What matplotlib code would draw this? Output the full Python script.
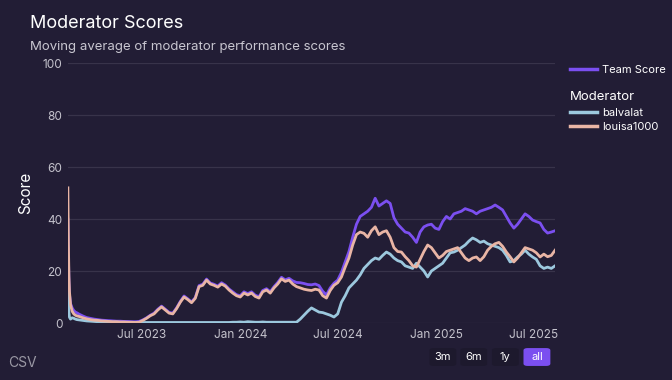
import numpy as np
import pandas as pd
import matplotlib
matplotlib.use("Agg")
import matplotlib.pyplot as plt
import matplotlib.dates as mdates
from matplotlib.lines import Line2D
from matplotlib.patches import FancyBboxPatch

plt.rcParams['font.family'] = ['Inter', 'DejaVu Sans']

# first days: the moving average is still settling
early_dates = ['2023-02-13', '2023-02-14', '2023-02-15', '2023-02-16', '2023-02-18',
               '2023-02-21', '2023-02-24', '2023-02-27', '2023-03-02']
early_team = [40, 26, 16, 11, 7.5, 5.8, 4.8, 4.2, 3.9]
early_balvalat = [14, 8, 4, 2.2, 1.5, 2.0, 1.8, 1.5, 1.3]
early_louisa = [52, 30, 18, 12, 7, 4.5, 3.5, 3.0, 2.7]

# weekly values from 2023-03-06 on
team_score = [
    3.4, 2.7, 2.1, 1.8, 1.5, 1.3, 1.1, 1.0, 0.9, 0.8, 0.7, 0.7, 0.6, 0.6, 0.5, 0.5,
    0.6, 1.2, 2.0, 3.0, 3.8, 5.3, 6.5, 5.3, 4.1, 3.8, 5.8, 8.3, 10.4, 9.3, 8.1, 9.8,
    14.4, 14.9, 16.9, 15.4, 14.9, 14.2, 15.5, 14.6, 13.1, 12.0, 10.9, 10.5, 12.0, 11.3,
    12.0, 10.7, 10.1, 12.5, 13.2, 12.0, 14.0, 15.6, 17.6, 16.6, 17.2, 16.2, 15.6, 15.5,
    15.2, 14.8, 14.7, 15.0, 14.4, 12.2, 10.8, 13.5, 15.3, 16.5, 19.5, 23.5, 27.5, 33.0,
    38.0, 41.0, 42.0, 43.0, 44.5, 48.0, 45.0, 46.0, 47.0, 46.0, 40.5, 38.0, 36.5, 35.0,
    34.6, 33.0, 31.0, 35.0, 37.0, 37.7, 38.0, 36.5, 36.0, 39.0, 41.0, 40.0, 42.0, 42.5,
    43.0, 44.0, 43.5, 43.0, 42.0, 43.0, 43.5, 44.0, 44.5, 45.4, 44.5, 43.5, 41.0, 38.5,
    36.5, 38.0, 40.0, 42.0, 41.0, 39.6, 39.0, 38.5, 36.0, 34.6, 35.0, 35.5]

balvalat = [
    1.2, 1.0, 0.8, 0.7, 0.6, 0.5, 0.4, 0.4, 0.3, 0.3, 0.3, 0.2, 0.2, 0.2, 0.2, 0.2,
    0.2, 0.2, 0.2, 0.2, 0.2, 0.2, 0.2, 0.2, 0.2, 0.2, 0.2, 0.2, 0.2, 0.2, 0.2, 0.2,
    0.2, 0.2, 0.2, 0.2, 0.2, 0.2, 0.2, 0.2, 0.2, 0.3, 0.3, 0.4, 0.3, 0.5, 0.4, 0.3,
    0.3, 0.4, 0.3, 0.3, 0.3, 0.3, 0.3, 0.3, 0.3, 0.3, 0.3, 1.5, 3.0, 4.5, 5.8, 5.0,
    4.2, 4.0, 3.5, 3.0, 2.3, 3.5, 8.0, 10.5, 13.5, 15.0, 16.5, 18.5, 21.0, 22.5, 24.0,
    25.0, 24.5, 26.0, 27.3, 26.5, 25.0, 24.0, 23.5, 22.0, 21.5, 21.0, 23.0, 21.5, 20.0,
    17.7, 20.0, 21.0, 22.0, 23.0, 25.0, 27.0, 27.3, 28.0, 29.0, 30.0, 31.5, 32.7, 32.0,
    31.0, 31.5, 30.5, 30.0, 29.5, 29.0, 28.0, 26.0, 23.5, 24.0, 25.4, 26.5, 28.0, 26.5,
    25.4, 24.5, 22.0, 21.0, 21.5, 21.0, 22.0]

louisa1000 = [
    2.5, 2.0, 1.6, 1.3, 1.1, 1.0, 0.8, 0.7, 0.6, 0.5, 0.5, 0.4, 0.4, 0.3, 0.3, 0.2,
    0.3, 1.0, 1.8, 2.8, 3.5, 5.0, 6.2, 5.0, 3.8, 3.5, 5.5, 8.0, 10.0, 9.0, 7.8, 9.5,
    14.0, 14.5, 16.5, 15.0, 14.5, 13.8, 15.0, 14.2, 12.7, 11.5, 10.5, 10.0, 11.5, 10.8,
    11.5, 10.2, 9.6, 12.0, 12.7, 11.5, 13.5, 15.0, 17.0, 16.0, 16.5, 15.0, 14.0, 13.5,
    13.0, 12.7, 12.5, 13.0, 12.7, 10.5, 9.6, 12.5, 14.5, 15.5, 17.7, 21.5, 25.0, 30.0,
    34.0, 35.0, 34.5, 33.0, 35.5, 37.0, 34.0, 35.0, 35.5, 33.0, 29.0, 27.5, 27.3, 25.5,
    24.0, 22.0, 21.5, 24.5, 27.5, 30.0, 29.0, 27.0, 25.0, 26.0, 27.5, 28.0, 28.5, 29.0,
    27.0, 25.0, 24.0, 25.0, 25.4, 24.0, 25.5, 28.0, 29.5, 30.5, 31.0, 29.5, 27.3, 25.5,
    23.5, 25.0, 27.0, 29.0, 28.5, 28.0, 27.0, 25.4, 26.5, 25.5, 26.0, 28.0]

tick_dates = ['2023-07-01', '2024-01-01', '2024-07-01', '2025-01-01', '2025-07-01']
range_buttons = ['3m', '6m', '1y', 'all']

bg = '#221d35'
c_team = '#7b4ff0'
c_balvalat = '#9cc8de'
c_louisa = '#e9b5a5'

dates = pd.to_datetime(early_dates).append(
    pd.date_range('2023-03-06', periods=len(team_score), freq='7D'))
team = early_team + team_score
bal = early_balvalat + balvalat
lou = early_louisa + louisa1000

fig = plt.figure(figsize=(6.72, 3.8), dpi=100, facecolor=bg)
ax = fig.add_axes([0.101, 0.15, 0.725, 0.684], facecolor=bg)

ax.plot(dates, team, color=c_team, lw=2.0, solid_joinstyle='round')
ax.plot(dates, bal, color=c_balvalat, lw=2.0, solid_joinstyle='round')
ax.plot(dates, lou, color=c_louisa, lw=2.0, solid_joinstyle='round')

ax.set_ylim(0, 100)
ax.set_xlim(dates[0], dates[-1])
ax.set_yticks([0, 20, 40, 60, 80, 100])
ax.set_xticks(pd.to_datetime(tick_dates))
ax.xaxis.set_major_formatter(mdates.DateFormatter('%b %Y'))
ax.grid(axis='y', color='#38334a', lw=0.9)
ax.set_axisbelow(True)
for s in ax.spines.values():
    s.set_visible(False)
ax.tick_params(length=0, colors='#c4c2cc', labelsize=8.5, pad=4)
ax.set_ylabel('Score', color='white', fontsize=11, labelpad=7)

fig.text(0.045, 0.925, 'Moderator Scores', color='white', fontsize=13)
fig.text(0.045, 0.868, 'Moving average of moderator performance scores',
         color='#c8c6d0', fontsize=9.5)

leg1 = ax.legend([Line2D([], [], color=c_team, lw=2.5)], ['Team Score'],
                 loc='upper left', bbox_to_anchor=(1.01, 1.03), frameon=False,
                 fontsize=8, labelcolor='white', handlelength=2.4, handletextpad=0.5)
ax.add_artist(leg1)
leg2 = ax.legend([Line2D([], [], color=c_balvalat, lw=2.5),
                  Line2D([], [], color=c_louisa, lw=2.5)],
                 ['balvalat', 'louisa1000'], title='Moderator',
                 loc='upper left', bbox_to_anchor=(1.01, 0.93), frameon=False,
                 fontsize=8, labelcolor='white', handlelength=2.4, handletextpad=0.5,
                 labelspacing=0.4, alignment='left')
leg2.get_title().set_color('white')
leg2.get_title().set_fontsize(9.5)

fig.text(0.012, 0.035, 'CSV', color='#9a98a4', fontsize=10)

bx = [0.659, 0.705, 0.752, 0.799]
for label, x in zip(range_buttons, bx):
    active = label == 'all'
    fig.patches.append(FancyBboxPatch((x - 0.020, 0.037), 0.040, 0.047,
                                      boxstyle='round,pad=0,rounding_size=0.006',
                                      transform=fig.transFigure,
                                      facecolor=c_team if active else '#1d192d',
                                      edgecolor='none'))
    fig.text(x, 0.061, label, color='white', fontsize=8, ha='center', va='center')

fig.savefig('out.png', dpi=100, facecolor=bg)
